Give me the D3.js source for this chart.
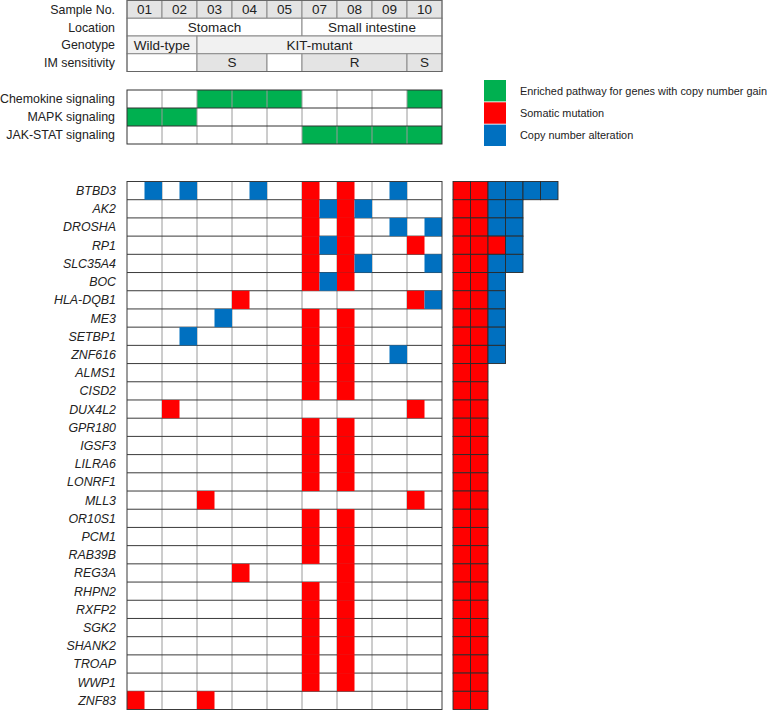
<!DOCTYPE html>
<html>
<head>
<meta charset="utf-8">
<script src="https://cdn.jsdelivr.net/npm/d3@7"></script>
<style>
  html, body { margin: 0; padding: 0; background: #fff; }
  svg { display: block; font-family: "Liberation Sans", Arial, sans-serif; }
</style>
</head>
<body>
<div id="chart"></div>
<script>
// ---------------- DATA ----------------
const samples = ["01", "02", "03", "04", "05", "07", "08", "09", "10"];
const headerRows = ["Sample No.", "Location", "Genotype", "IM sensitivity"];

const locationLabels = ["Stomach", "Small intestine"];
const locationStart = ["01", "07"];
const locationEnd = ["05", "10"];

const genotypeLabels = ["Wild-type", "KIT-mutant"];
const genotypeStart = ["01", "03"];
const genotypeEnd = ["02", "10"];

const imLabels = ["", "S", "", "R", "S"];
const imStart = ["01", "03", "05", "07", "10"];
const imEnd = ["02", "04", "05", "09", "10"];

const pathways = ["Chemokine signaling", "MAPK signaling", "JAK-STAT signaling"];
const pathwaySamples = [
  ["03", "04", "05", "10"],
  ["01", "02"],
  ["07", "08", "09", "10"]
];

const legendLabels = ["Enriched pathway for genes with copy number gain", "Somatic mutation", "Copy number alteration"];

const genes = ["BTBD3", "AK2", "DROSHA", "RP1", "SLC35A4", "BOC", "HLA-DQB1", "ME3", "SETBP1", "ZNF616",
  "ALMS1", "CISD2", "DUX4L2", "GPR180", "IGSF3", "LILRA6", "LONRF1", "MLL3", "OR10S1", "PCM1",
  "RAB39B", "REG3A", "RHPN2", "RXFP2", "SGK2", "SHANK2", "TROAP", "WWP1", "ZNF83"];

// samples with a somatic mutation, per gene
const mutationSamples = [
  ["07", "08"], ["07", "08"], ["07", "08"], ["07", "08", "10"], ["07", "08"], ["07", "08"],
  ["04", "10"], ["07", "08"], ["07", "08"], ["07", "08"],
  ["07", "08"], ["07", "08"], ["02", "10"], ["07", "08"], ["07", "08"], ["07", "08"], ["07", "08"],
  ["03", "10"], ["07", "08"], ["07", "08"], ["07", "08"], ["04", "08"], ["07", "08"], ["07", "08"],
  ["07", "08"], ["07", "08"], ["07", "08"], ["07", "08"], ["01", "03"]
];
// samples with a copy number alteration, per gene
const cnaSamples = [
  ["01", "02", "04", "09"], ["07", "08"], ["09", "10"], ["07"], ["08", "10"], ["07"],
  ["10"], ["03"], ["02"], ["09"],
  [], [], [], [], [], [], [], [], [], [], [], [], [], [], [], [], [], [], []
];

// ---------------- COLOURS ----------------
const GREEN = "#00b050", RED = "#ff0000", BLUE = "#0070c0";

// ---------------- SVG ----------------
const W = 773, H = 711;
const svg = d3.select("#chart").append("svg").attr("width", W).attr("height", H);

const x = d3.scaleBand().domain(samples).range([127, 442]);
const bw = x.bandwidth();
const labelX = 115;

// ---------- Header table ----------
const yH = d3.scaleBand().domain(headerRows).range([0.5, 71.5]);
const hh = yH.bandwidth();
const gH = svg.append("g");

function spanRects(row, labels, starts, ends, fillFn) {
  const data = labels.map((l, i) => ({ label: l, s: starts[i], e: ends[i] }));
  const g = gH.append("g");
  g.selectAll("rect").data(data).join("rect")
    .attr("x", d => x(d.s))
    .attr("y", yH(row))
    .attr("width", d => x(d.e) + bw - x(d.s))
    .attr("height", hh)
    .attr("fill", (d, i) => fillFn(d, i))
    .attr("stroke", "#8a8a8a").attr("stroke-width", 1);
  g.selectAll("text").data(data).join("text")
    .attr("x", d => (x(d.s) + x(d.e) + bw) / 2)
    .attr("y", yH(row) + hh / 2)
    .attr("dy", "0.36em")
    .attr("text-anchor", "middle")
    .attr("font-size", 13.5).attr("fill", "#222")
    .text(d => d.label);
}

spanRects("Sample No.", samples, samples, samples, () => "#e4e4e4");
spanRects("Location", locationLabels, locationStart, locationEnd, () => "#ffffff");
spanRects("Genotype", genotypeLabels, genotypeStart, genotypeEnd, () => "#f1f1f1");
spanRects("IM sensitivity", imLabels, imStart, imEnd, d => d.label ? "#e4e4e4" : "#ffffff");

gH.append("rect").attr("x", x.range()[0]).attr("y", yH.range()[0])
  .attr("width", x.range()[1] - x.range()[0]).attr("height", yH.range()[1] - yH.range()[0])
  .attr("fill", "none").attr("stroke", "#666").attr("stroke-width", 1);

gH.selectAll("text.rowlab").data(headerRows).join("text").attr("class", "rowlab")
  .attr("x", labelX).attr("y", d => yH(d) + hh / 2).attr("dy", "0.36em")
  .attr("text-anchor", "end").attr("font-size", 12.4).attr("fill", "#222")
  .text(d => d);

// ---------- Pathway grid ----------
const yP = d3.scaleBand().domain(pathways).range([90, 144]);
const ph = yP.bandwidth();
const gP = svg.append("g");
const pCells = [];
pathways.forEach((p, i) => samples.forEach(s => pCells.push({ p, s, on: pathwaySamples[i].includes(s) })));
gP.selectAll("rect.cell").data(pCells).join("rect").attr("class", "cell")
  .attr("x", d => x(d.s)).attr("y", d => yP(d.p))
  .attr("width", bw).attr("height", ph)
  .attr("fill", d => d.on ? GREEN : "#fff");
gP.selectAll("line.v").data(samples.slice(1)).join("line").attr("class", "v")
  .attr("x1", d => x(d)).attr("x2", d => x(d))
  .attr("y1", yP.range()[0]).attr("y2", yP.range()[1])
  .attr("stroke", "#9a9a9a").attr("stroke-width", 1);
gP.selectAll("line.h").data(pathways.slice(1)).join("line").attr("class", "h")
  .attr("x1", x.range()[0]).attr("x2", x.range()[1])
  .attr("y1", d => yP(d)).attr("y2", d => yP(d))
  .attr("stroke", "#333").attr("stroke-width", 1);
gP.append("rect").attr("x", x.range()[0]).attr("y", yP.range()[0])
  .attr("width", x.range()[1] - x.range()[0]).attr("height", yP.range()[1] - yP.range()[0])
  .attr("fill", "none").attr("stroke", "#333").attr("stroke-width", 1);
gP.selectAll("text").data(pathways).join("text")
  .attr("x", labelX).attr("y", d => yP(d) + ph / 2).attr("dy", "0.36em")
  .attr("text-anchor", "end").attr("font-size", 12.4).attr("fill", "#222")
  .text(d => d);

// ---------- Legend ----------
const legendColors = [GREEN, RED, BLUE];
const yL = d3.scaleBand().domain(legendLabels).range([80, 146]).paddingInner(0.04);
const gL = svg.append("g");
gL.selectAll("rect").data(legendLabels).join("rect")
  .attr("x", 484).attr("y", d => yL(d)).attr("width", 22).attr("height", yL.bandwidth())
  .attr("fill", (d, i) => legendColors[i]);
gL.selectAll("text").data(legendLabels).join("text")
  .attr("x", 520).attr("y", d => yL(d) + yL.bandwidth() / 2).attr("dy", "0.36em")
  .attr("font-size", 10.9).attr("fill", "#222")
  .text(d => d);

// ---------- Gene grid ----------
const yG = d3.scaleBand().domain(genes).range([181.5, 709.5]);
const gh = yG.bandwidth();
const gG = svg.append("g");
gG.append("rect").attr("x", x.range()[0]).attr("y", yG.range()[0])
  .attr("width", x.range()[1] - x.range()[0]).attr("height", yG.range()[1] - yG.range()[0])
  .attr("fill", "#fff");
gG.selectAll("line.v").data(samples.slice(1)).join("line").attr("class", "v")
  .attr("x1", d => x(d)).attr("x2", d => x(d))
  .attr("y1", yG.range()[0]).attr("y2", yG.range()[1])
  .attr("stroke", "#9a9a9a").attr("stroke-width", 1);
gG.selectAll("line.h").data(genes.slice(1)).join("line").attr("class", "h")
  .attr("x1", x.range()[0]).attr("x2", x.range()[1])
  .attr("y1", d => yG(d)).attr("y2", d => yG(d))
  .attr("stroke", "#3a3a3a").attr("stroke-width", 1);

const mutCells = [], cnaCells = [];
genes.forEach((g, i) => {
  mutationSamples[i].forEach(s => mutCells.push({ g, s }));
  cnaSamples[i].forEach(s => cnaCells.push({ g, s }));
});
gG.selectAll("rect.mut").data(mutCells).join("rect").attr("class", "mut")
  .attr("x", d => x(d.s)).attr("y", d => yG(d.g))
  .attr("width", bw / 2).attr("height", gh).attr("fill", RED);
gG.selectAll("rect.cna").data(cnaCells).join("rect").attr("class", "cna")
  .attr("x", d => x(d.s) + bw / 2).attr("y", d => yG(d.g))
  .attr("width", bw / 2).attr("height", gh).attr("fill", BLUE);
gG.append("rect").attr("x", x.range()[0]).attr("y", yG.range()[0])
  .attr("width", x.range()[1] - x.range()[0]).attr("height", yG.range()[1] - yG.range()[0])
  .attr("fill", "none").attr("stroke", "#3a3a3a").attr("stroke-width", 1);

gG.selectAll("text").data(genes).join("text")
  .attr("x", labelX + 1).attr("y", d => yG(d) + gh / 2).attr("dy", "0.36em")
  .attr("text-anchor", "end").attr("font-size", 12.4).attr("font-style", "italic").attr("fill", "#222")
  .text(d => d);

// ---------- Right count bars ----------
const xC = d3.scaleLinear().domain([0, 6]).range([453, 558]);
const unit = xC(1) - xC(0);
const countCells = [];
genes.forEach((g, i) => {
  const nm = mutationSamples[i].length, nc = cnaSamples[i].length;
  for (let k = 0; k < nm; k++) countCells.push({ g, k, c: RED });
  for (let k = 0; k < nc; k++) countCells.push({ g, k: nm + k, c: BLUE });
});
svg.append("g").selectAll("rect").data(countCells).join("rect")
  .attr("x", d => xC(d.k)).attr("y", d => yG(d.g))
  .attr("width", unit).attr("height", gh)
  .attr("fill", d => d.c).attr("stroke", "#2a2a2a").attr("stroke-width", 0.9);
</script>
</body>
</html>
